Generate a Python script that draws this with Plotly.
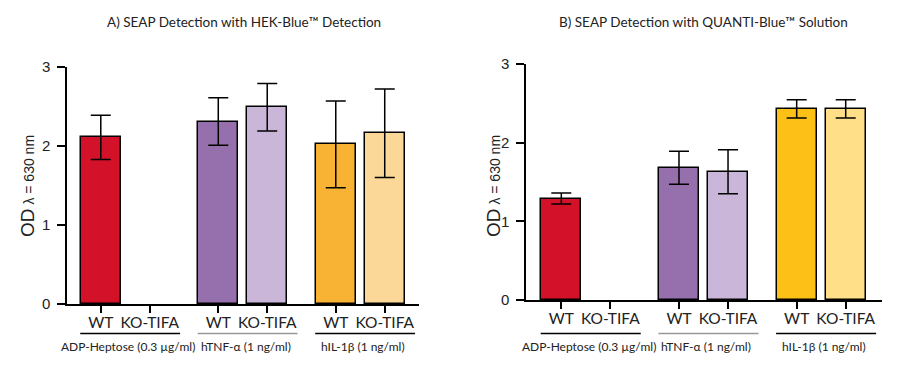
import plotly.graph_objects as go

# ---------------- data ----------------
categories = ["WT", "KO-TIFA", "WT", "KO-TIFA", "WT", "KO-TIFA"]
groups = ["ADP-Heptose (0.3 µg/ml)", "hTNF-α (1 ng/ml)", "hIL-1β (1 ng/ml)"]
positions = [0, 1, 2.4, 3.4, 4.8, 5.8]

a_values = [2.11, None, 2.31, 2.49, 2.02, 2.16]
a_errors = [0.28, None, 0.30, 0.30, 0.55, 0.56]
b_values = [1.29, None, 1.68, 1.63, 2.43, 2.43]
b_errors = [0.07, None, 0.21, 0.28, 0.115, 0.115]

titles = ["A) SEAP Detection with HEK-Blue™ Detection",
          "B) SEAP Detection with QUANTI-Blue™ Solution"]
y_ticks = [0, 1, 2, 3]

a_colors = ["#D31129", "#D31129", "#9670AD", "#C9B6D8", "#F8B334", "#FCD898"]
b_colors = ["#D31129", "#D31129", "#9670AD", "#C9B6D8", "#FCC016", "#FFDF88"]

W, H = 899, 372
fig = go.Figure()

panels = [
    dict(vals=a_values, errs=a_errors, cols=a_colors, xa="x", ya="y",
         xd=[67 / W, 419 / W], yd=[1 - 304 / H, 1 - 67 / H], xr=[-0.69, 6.5],
         title=titles[0], tx=244, lx=27),
    dict(vals=b_values, errs=b_errors, cols=b_colors, xa="x2", ya="y2",
         xd=[526 / W, 882 / W], yd=[1 - 300 / H, 1 - 64 / H], xr=[-0.72, 6.54],
         title=titles[1], tx=703, lx=493),
]

axis_font = dict(family="Liberation Sans, Arial, sans-serif", size=15, color="#222")
lato = "Lato, sans-serif"

annotations = []
shapes = []
layout = {}
for i, p in enumerate(panels):
    fig.add_trace(go.Bar(
        x=positions, y=p["vals"], width=0.81,
        marker=dict(color=p["cols"], line=dict(color="black", width=1.5)),
        error_y=dict(type="data", array=p["errs"], visible=True,
                     color="black", thickness=1.5, width=10),
        xaxis=p["xa"], yaxis=p["ya"], showlegend=False, hoverinfo="y",
    ))
    sfx = "" if i == 0 else "2"
    layout["xaxis" + sfx] = dict(
        domain=p["xd"], range=p["xr"], anchor=p["ya"], automargin=False,
        tickmode="array", tickvals=positions, ticktext=categories,
        ticks="outside", ticklen=7, tickwidth=1.5, tickcolor="black",
        showline=True, linecolor="black", linewidth=1.5,
        showgrid=False, zeroline=False, ticklabelstandoff=-3,
        tickfont=dict(family=lato, size=15.5, color="#222"),
    )
    layout["yaxis" + sfx] = dict(
        domain=p["yd"], range=[0, 3], anchor=p["xa"], automargin=False,
        tickmode="array", tickvals=y_ticks,
        ticks="outside", ticklen=8, tickwidth=1.5, tickcolor="black",
        showline=True, linecolor="black", linewidth=1.5,
        showgrid=False, zeroline=False, tickfont=axis_font,
        ticklabelstandoff=4,
    )
    # title
    annotations.append(dict(text=p["title"], x=p["tx"] / W, y=1 - 22 / H,
                            xref="paper", yref="paper", showarrow=False,
                            xanchor="center", yanchor="middle",
                            font=dict(family=lato, size=13.5, color="#222")))
    # y label
    annotations.append(dict(
        text="OD<span style='font-size:14px'> λ = 630 nm</span>",
        x=p["lx"] / W, y=1 - 186 / H,
        xref="paper", yref="paper", showarrow=False, textangle=-90,
        xanchor="center", yanchor="middle",
        font=dict(family="Liberation Sans, Arial, sans-serif", size=19, color="#222")))
    # group lines and labels
    for g, name in enumerate(groups):
        c = (positions[2 * g] + positions[2 * g + 1]) / 2
        shapes.append(dict(type="line", xref=p["xa"], yref="paper",
                           x0=c - 0.92, x1=c + 1.12, y0=1 - 333.5 / H, y1=1 - 333.5 / H,
                           line=dict(color="#999" if g == 1 else "black", width=1.3)))
        annotations.append(dict(text=name, x=c + 0.06, y=1 - 346 / H,
                                xref=p["xa"], yref="paper", showarrow=False,
                                xanchor="center", yanchor="middle",
                                font=dict(family=lato, size=12, color="#222")))

fig.update_layout(
    width=W, height=H, margin=dict(l=0, r=0, t=0, b=0, autoexpand=False),
    paper_bgcolor="white", plot_bgcolor="white", template="none",
    annotations=annotations, shapes=shapes, bargap=0, **layout,
)

fig.write_html("out.html", config={"displayModeBar": False},
               post_script="document.body.style.margin='0';document.body.style.overflow='hidden';")
